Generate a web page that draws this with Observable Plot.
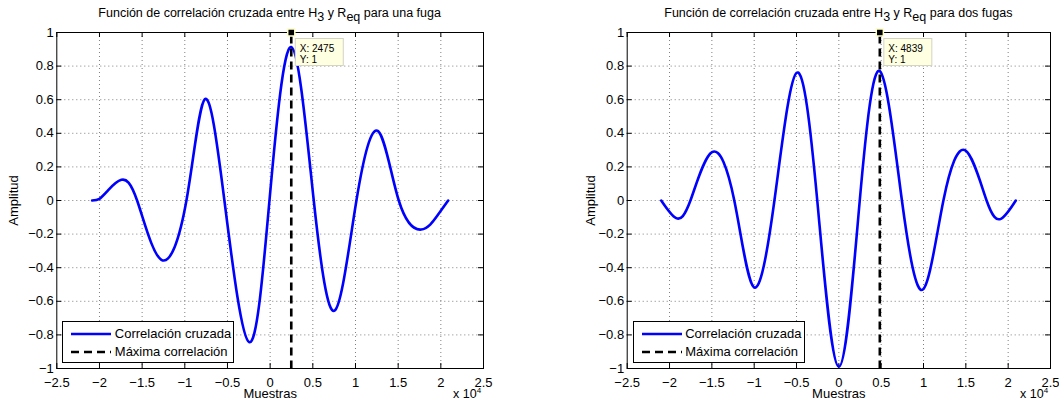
<!DOCTYPE html>
<html>
<head>
<meta charset="utf-8">
<script src="https://cdn.jsdelivr.net/npm/d3@7"></script>
<script src="https://cdn.jsdelivr.net/npm/@observablehq/plot@0.6"></script>
<style>
  body { margin: 0; background: #fff; font-family: "Liberation Sans", Arial, Helvetica, sans-serif; }
  #fig { position: relative; width: 1059px; height: 410px; overflow: hidden; background: #fff; }
  .panel { position: absolute; top: 0; }
  .title { position: absolute; font-size: 12.5px; white-space: nowrap; transform: translate(-50%, -50%); color: #000; }
  .title .sub { position: relative; top: 4px; }
  .exp { position: absolute; font-size: 12.5px; white-space: nowrap; color: #000; line-height: 14px; }
  .exp sup { font-size: 8px; position: relative; top: -3px; vertical-align: top; }
  .legend { position: absolute; background: #fff; border: 1px solid #000; box-sizing: border-box; font-size: 13px; color: #000; }
  .legend .row { position: absolute; left: 0; display: flex; align-items: center; height: 14px; }
  .legend svg { display: block; }
</style>
</head>
<body>
<div id="fig"></div>
<script>
// Cross-correlation between H3 and Req, one leak (samples, amplitude)
const unaFugaX = [-20860, -20000, -19000, -17430, -15590, -12740, -9810, -7660, -5360, -2460, -80, 2475, 5110, 7570, 10110, 12650, 15070, 17690, 19600, 20860];
const unaFugaY = [0, 0.01, 0.06, 0.123, 0, -0.353, 0, 0.603, 0, -0.843, 0, 0.913, 0, -0.655, 0, 0.413, 0, -0.173, -0.09, 0];

// Cross-correlation between H3 and Req, two leaks
const dosFugasX = [-20980, -19210, -17530, -14980, -12350, -10040, -7610, -4980, -2550, 0, 2470, 4839, 7450, 9920, 12350, 14940, 17450, 19140, 20900];
const dosFugasY = [0, -0.105, 0, 0.288, 0, -0.516, 0, 0.760, 0, -0.99, 0, 0.770, 0, -0.530, 0, 0.298, 0, -0.109, 0];

// Position of the maximum correlation (data tip)
const maxUnaFuga = {x: 2475, y: 1};
const maxDosFugas = {x: 4839, y: 1};
const maxLineY = [-1, 1];

// Axis ticks
const xTicks = [-25000, -20000, -15000, -10000, -5000, 0, 5000, 10000, 15000, 20000, 25000];
const yTicks = [-1, -0.8, -0.6, -0.4, -0.2, 0, 0.2, 0.4, 0.6, 0.8, 1];
const xDomain = [-25000, 25000];
const yDomain = [-1, 1];

// Text
const titleStart = "Función de correlación cruzada entre H";
const titleMid = " y R";
const titleEnds = ["para una fuga", "para dos fugas"];
const xLabel = "Muestras";
const yLabel = "Amplitud";
const legendLabels = ["Correlación cruzada", "Máxima correlación"];

const FONT = '"Liberation Sans", Arial, Helvetica, sans-serif';
const fmt = d3.format("");
const H = 410, MT = 32, MB = 42;
const frameH = H - MT - MB;
const TICK = 5;
const DASH = "8,5";

const panels = [
  {left: 0, width: 530, ml: 56.3, mr: 47, ylabelDx: -43, xs: unaFugaX, ys: unaFugaY, max: maxUnaFuga, titleEnd: titleEnds[0]},
  {left: 530, width: 529, ml: 96.7, mr: 9, ylabelDx: -36, xs: dosFugasX, ys: dosFugasY, max: maxDosFugas, titleEnd: titleEnds[1]}
];

const fig = document.getElementById("fig");

// data tip box next to the marker, placed through the plot's scales
function dataTip(pt) {
  return (index, scales) => {
    const cx = scales.x(pt.x), cy = scales.y(pt.y);
    const g = d3.create("svg:g");
    g.append("rect")
      .attr("x", cx + 4.5).attr("y", cy + 6.5)
      .attr("width", 48).attr("height", 27)
      .attr("fill", "#ffffe1").attr("stroke", "#d4d4c4").attr("stroke-width", 1);
    g.selectAll("text").data([`X: ${pt.x}`, `Y: ${pt.y}`]).join("text")
      .attr("x", cx + 9).attr("y", (d, i) => cy + 20 + i * 11)
      .attr("text-anchor", "start")
      .attr("font-size", 10).attr("font-family", FONT).attr("fill", "#000")
      .text(d => d);
    return g.node();
  };
}

for (const p of panels) {
  const series = p.xs.map((x, i) => ({x, y: p.ys[i]}));
  const maxLine = maxLineY.map(y => ({x: p.max.x, y}));
  const innerX = xTicks.filter(t => t > xDomain[0] && t < xDomain[1]);
  const innerY = yTicks.filter(t => t > yDomain[0] && t < yDomain[1]);
  const frameW = p.width - p.ml - p.mr;

  const chart = Plot.plot({
    width: p.width,
    height: H,
    marginLeft: p.ml,
    marginRight: p.mr,
    marginTop: MT,
    marginBottom: MB,
    style: {fontFamily: FONT, fontSize: "13px", color: "#000", background: "transparent", overflow: "visible"},
    x: {domain: xDomain, ticks: xTicks, tickFormat: d => fmt(d / 1e4), tickSize: 0, tickPadding: 9, label: null},
    y: {domain: yDomain, ticks: yTicks, tickFormat: fmt, tickSize: 0, tickPadding: 3, label: null},
    marks: [
      // dotted grid
      Plot.ruleX(innerX, {x: d => d, stroke: "#7f7f7f", strokeWidth: 1, strokeDasharray: "1,3"}),
      Plot.ruleY(innerY, {y: d => d, stroke: "#7f7f7f", strokeWidth: 1, strokeDasharray: "1,3"}),
      // inward tick marks on all four sides
      Plot.ruleX(xTicks, {x: d => d, insetTop: frameH - TICK, stroke: "#000"}),
      Plot.ruleX(xTicks, {x: d => d, insetBottom: frameH - TICK, stroke: "#000"}),
      Plot.ruleY(yTicks, {y: d => d, insetRight: frameW - TICK, stroke: "#000"}),
      Plot.ruleY(yTicks, {y: d => d, insetLeft: frameW - TICK, stroke: "#000"}),
      // correlation curve
      Plot.line(series, {x: "x", y: "y", curve: "natural", stroke: "#0000ff", strokeWidth: 2.6}),
      // maximum correlation
      Plot.line(maxLine, {x: "x", y: "y", stroke: "#000", strokeWidth: 2.6, strokeDasharray: DASH, strokeLinecap: "butt"}),
      Plot.frame({stroke: "#000", strokeWidth: 1}),
      Plot.dot([p.max], {x: "x", y: "y", symbol: "square", r: 4, fill: "#000", stroke: "#ffffc8", strokeWidth: 1.5}),
      dataTip(p.max),
      // axis labels
      Plot.text([xLabel], {frameAnchor: "bottom", lineAnchor: "middle", textAnchor: "middle", dy: 25, text: d => d, fontSize: 13, fill: "#000"}),
      Plot.text([yLabel], {frameAnchor: "left", lineAnchor: "middle", textAnchor: "middle", dx: p.ylabelDx, rotate: -90, text: d => d, fontSize: 13, fill: "#000"})
    ]
  });
  const holder = document.createElement("div");
  holder.className = "panel";
  holder.style.left = p.left + "px";
  holder.appendChild(chart);
  fig.appendChild(holder);

  const axL = p.left + p.ml, axR = p.left + p.width - p.mr, axB = H - MB;

  // title with subscripts
  const t = document.createElement("div");
  t.className = "title";
  t.style.left = ((axL + axR) / 2) + "px";
  t.style.top = "13px";
  t.innerHTML = `${titleStart}<span class="sub">3</span>${titleMid}<span class="sub">eq</span> ${p.titleEnd}`;
  fig.appendChild(t);

  // x 10^4 scale factor
  const e = document.createElement("div");
  e.className = "exp";
  e.style.left = (axR - 30) + "px";
  e.style.top = (axB + 19) + "px";
  e.innerHTML = "x 10<sup>4</sup>";
  fig.appendChild(e);

  // legend
  const lg = document.createElement("div");
  lg.className = "legend";
  lg.style.left = (axL + 6) + "px";
  lg.style.top = (axB - 47.5) + "px";
  lg.style.width = "172px";
  lg.style.height = "42px";
  const dashes = [null, DASH];
  const colors = ["#0000ff", "#000"];
  legendLabels.forEach((lab, i) => {
    const row = document.createElement("div");
    row.className = "row";
    row.style.top = (i === 0 ? 5 : 23) + "px";
    row.style.left = "8px";
    const svg = d3.create("svg").attr("width", 40).attr("height", 14);
    svg.append("line").attr("x1", 0).attr("x2", 40).attr("y1", 7).attr("y2", 7)
      .attr("stroke", colors[i]).attr("stroke-width", 2.6)
      .attr("stroke-dasharray", dashes[i]);
    row.appendChild(svg.node());
    const s = document.createElement("span");
    s.style.marginLeft = "3.5px";
    s.textContent = lab;
    row.appendChild(s);
    lg.appendChild(row);
  });
  fig.appendChild(lg);
}
</script>
</body>
</html>
